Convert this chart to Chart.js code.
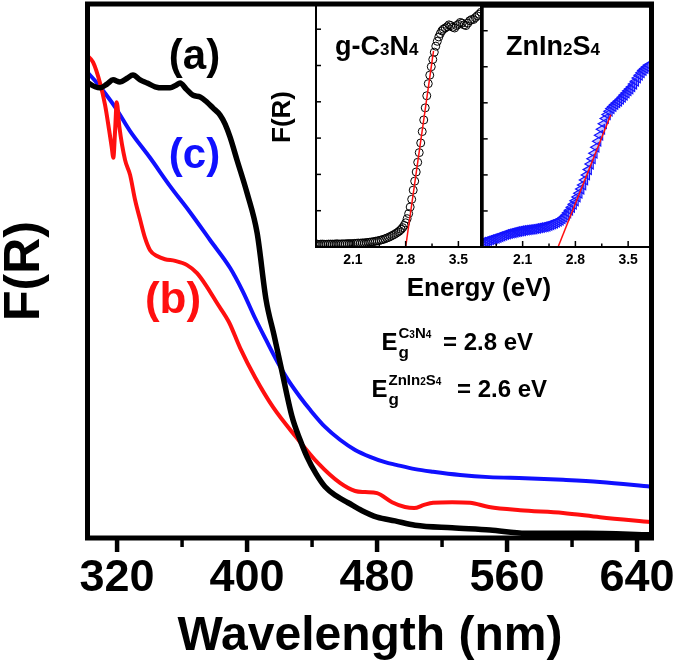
<!DOCTYPE html>
<html>
<head>
<meta charset="utf-8">
<script src="https://cdn.jsdelivr.net/npm/chart.js@4.4.1/dist/chart.umd.min.js"></script>
<style>
  html, body { margin: 0; padding: 0; background: #fff; }
  #wrap { position: relative; width: 675px; height: 665px; }
  canvas { position: absolute; }
  #main { left: 0; top: 0; }
  #inset1 { left: 296px; top: 0; }
  #inset2 { left: 470px; top: 0; }
</style>
</head>
<body>
<div id="wrap">
  <canvas id="main" width="675" height="665"></canvas>
  <canvas id="inset1" width="190" height="275"></canvas>
  <canvas id="inset2" width="205" height="275"></canvas>
</div>
<script>
// main plot: wavelength (nm) vs F(R), arbitrary units
const wlA = [302.2,306.5,309.5,313.8,317.5,321.8,326.2,329.8,334.2,338.5,343.4,348.3,352.6,356.3,358.8,362.5,366.8,371.1,375.4,379.1,383.4,386.5,389.5,393.8,400.0,406.2,411.7,416.6,420.9,427.7,432.6,436.9,442.5,448.0,454.8,462.2,470.8,480.0,491.1,503.4,526.2,549.5,571.7,609.2,648.5];
const frA = [85.2,84.5,84.3,85.0,85.8,85.4,86.1,86.7,85.8,85.2,84.5,84.3,84.3,84.8,85.2,84.1,82.9,82.6,81.6,80.5,79.2,77.5,75.1,70.8,64.6,57.1,44.6,38.0,32.0,22.7,18.4,15.2,12.0,9.6,7.9,6.6,5.1,3.9,3.2,2.4,1.9,1.5,0.9,0.9,0.6];

const wlB = [301.5,305.2,309.5,312.6,315.1,316.7,317.7,318.8,319.8,321.4,324.9,328.0,331.1,334.2,337.2,340.3,344.6,349.5,355.7,363.1,369.2,375.4,381.5,388.9,395.7,404.9,416.0,430.2,443.7,457.2,466.5,472.6,480.0,489.2,497.2,502.8,508.9,514.5,526.2,537.2,548.9,568.0,594.5,617.2,648.5];
const frB = [90.4,89.1,85.2,81.1,76.4,73.2,71.2,76.4,81.6,77.0,70.8,68.0,63.3,59.6,56.2,53.9,52.8,52.2,51.9,51.1,49.6,47.0,44.0,40.4,35.6,30.1,24.5,18.9,14.0,10.3,8.8,8.6,8.4,6.7,5.8,5.6,6.2,6.6,6.7,6.6,5.8,5.2,4.7,3.9,3.0];

const wlC = [301.5,307.7,312.6,318.8,328.0,340.3,352.6,364.9,377.2,389.5,397.5,404.9,411.7,418.5,425.2,432.6,438.8,448.0,457.2,466.5,475.7,484.9,491.7,503.4,514.5,531.1,548.9,571.1,594.5,617.2,648.5];
const frC = [87.3,85.2,83.3,80.7,76.2,71.2,65.9,61.0,55.8,50.6,46.1,41.2,37.1,33.1,29.6,26.4,24.0,20.8,18.4,16.5,15.2,14.2,13.7,12.9,12.4,11.8,11.4,11.2,10.9,10.5,9.6];

const xTicks = [320, 400, 480, 560, 640];
const xMinor = [360, 440, 520, 600];

// inset 1: g-C3N4, energy (eV) vs F(R)
const e1 = [
  1.600,1.625,1.650,1.675,1.700,1.725,1.750,1.775,1.800,1.825,1.850,1.875,1.900,1.925,1.950,1.975,2.000,2.025,2.050,2.075,2.100,2.125,
  2.150,2.175,2.200,2.225,2.250,2.275,2.300,2.325,2.350,2.375,2.400,2.425,2.450,2.475,2.500,2.525,2.550,2.575,2.600,2.625,2.650,2.675,
  2.70,2.72,2.74,2.76,2.78,2.80,2.82,2.84,2.86,2.88,2.90,2.92,2.94,2.96,2.98,3.00,3.02,3.04,3.06,3.08,3.10,3.12,3.14,3.16,3.18,3.20,
  3.22,3.24,3.26,3.28,3.30,
  3.325,3.350,3.375,3.400,3.425,3.450,3.475,3.500,3.525,3.550,3.575,3.600,3.625,3.650,3.675,3.700,3.725,3.750,3.775,3.800];
const f1 = [
  0.012,0.012,0.011,0.012,0.012,0.011,0.011,0.012,0.012,0.012,0.012,0.013,0.013,0.012,0.013,0.013,0.013,0.014,0.014,0.014,0.014,0.015,
  0.015,0.016,0.016,0.017,0.017,0.018,0.019,0.020,0.021,0.022,0.024,0.025,0.027,0.029,0.031,0.034,0.037,0.040,0.044,0.048,0.052,0.057,
  0.062,0.067,0.073,0.080,0.089,0.100,0.117,0.138,0.165,0.197,0.235,0.272,0.310,0.350,0.390,0.430,0.477,0.525,0.575,0.625,0.675,0.710,0.745,0.775,0.805,0.830,
  0.850,0.868,0.882,0.893,0.900,
  0.905,0.910,0.918,0.915,0.908,0.905,0.915,0.920,0.928,0.925,0.918,0.915,0.925,0.935,0.940,0.940,0.948,0.955,0.962,0.970];
const fit1E = [2.80, 3.17];
const fit1F = [0, 0.81];

// inset 2: ZnIn2S4
const e2 = [
  1.570,1.600,1.625,1.650,1.675,1.700,1.725,1.750,1.775,1.800,1.825,1.850,1.875,1.900,1.925,1.950,1.975,2.000,2.025,2.050,2.075,2.100,
  2.125,2.150,2.175,2.200,2.225,2.250,2.275,2.300,2.325,2.350,2.375,2.400,2.425,2.450,2.475,2.500,2.525,2.550,2.575,2.600,2.625,2.650,
  2.675,2.700,2.725,2.750,2.775,2.800,2.825,2.850,2.875,2.900,2.925,2.950,2.975,3.000,3.025,3.050,3.075,3.100,3.125,3.150,3.175,3.200,
  3.225,3.250,3.275,3.300,3.325,3.350,3.375,3.400,3.425,3.450,3.475,3.500,3.525,3.550,3.575,3.600,3.625,3.650,3.675,3.700,3.725,3.750,3.775];
const f2 = [
  0.020,0.022,0.025,0.027,0.030,0.032,0.035,0.037,0.040,0.043,0.046,0.049,0.052,0.054,0.056,0.058,0.060,0.062,0.064,0.065,0.067,0.068,
  0.070,0.071,0.072,0.073,0.074,0.075,0.077,0.078,0.080,0.081,0.083,0.085,0.087,0.090,0.093,0.096,0.099,0.103,0.107,0.112,0.118,0.124,
  0.132,0.142,0.153,0.165,0.178,0.192,0.208,0.224,0.241,0.258,0.279,0.300,0.322,0.345,0.367,0.390,0.415,0.440,0.465,0.490,0.513,0.535,
  0.551,0.565,0.576,0.585,0.593,0.600,0.607,0.615,0.623,0.632,0.641,0.650,0.658,0.667,0.678,0.690,0.703,0.715,0.725,0.735,0.743,0.750,0.757];
const fit2E = [2.57, 3.27];
const fit2F = [0, 0.55];

const eTicks = [2.1, 2.8, 3.5];
const eMinor = [1.75, 2.45, 3.15];
const fTicks = [0.15, 0.30, 0.45, 0.60, 0.75, 0.90];

const FONT = "'Liberation Sans', Arial, sans-serif";
const RED = '#ff0f0f', BLUE = '#1010ff';

const toXY = (xs, ys) => xs.map((x, i) => ({x: x, y: ys[i]}));

function seg(ctx, x1, y1, x2, y2) {
  ctx.beginPath(); ctx.moveTo(x1, y1); ctx.lineTo(x2, y2); ctx.stroke();
}

// draws runs of text with different sizes, left aligned from x
function rich(ctx, x, y, parts, color) {
  ctx.fillStyle = color || '#000';
  ctx.textAlign = 'left';
  ctx.textBaseline = 'alphabetic';
  parts.forEach(p => {
    ctx.font = 'bold ' + p[1] + 'px ' + FONT;
    ctx.fillText(p[0], x, y + (p[2] || 0));
    x += ctx.measureText(p[0]).width;
  });
}

function centerText(ctx, t, x, y, size, color) {
  ctx.font = 'bold ' + size + 'px ' + FONT;
  ctx.fillStyle = color || '#000';
  ctx.textAlign = 'center';
  ctx.textBaseline = 'alphabetic';
  ctx.fillText(t, x, y);
}

function vertText(ctx, t, x, y, size) {
  ctx.save();
  ctx.translate(x, y);
  ctx.rotate(-Math.PI / 2);
  ctx.font = 'bold ' + size + 'px ' + FONT;
  ctx.fillStyle = '#000';
  ctx.textAlign = 'center';
  ctx.textBaseline = 'middle';
  ctx.fillText(t, 0, 0);
  ctx.restore();
}

const mainDecor = {
  id: 'mainDecor',
  afterDraw(chart) {
    const ctx = chart.ctx, a = chart.chartArea, xs = chart.scales.x;
    ctx.save();
    ctx.strokeStyle = '#000';
    ctx.lineWidth = 5;
    ctx.strokeRect(a.left, a.top, a.right - a.left, a.bottom - a.top);
    ctx.lineWidth = 4.5;
    xTicks.forEach(v => { const px = xs.getPixelForValue(v); seg(ctx, px, a.bottom, px, a.bottom + 14); });
    ctx.lineWidth = 3.5;
    xMinor.forEach(v => { const px = xs.getPixelForValue(v); seg(ctx, px, a.bottom, px, a.bottom + 9); });

    centerText(ctx, 'Wavelength (nm)', 370, 650, 48);
    vertText(ctx, 'F(R)', 25, 271, 50);

    centerText(ctx, '(a)', 194.5, 69, 42, '#000');
    centerText(ctx, '(c)', 194.5, 168, 42, BLUE);
    centerText(ctx, '(b)', 173, 313, 44, RED);

    // inset labels
    vertText(ctx, 'F(R)', 283, 117, 26);
    centerText(ctx, 'Energy (eV)', 479, 296, 26);
    rich(ctx, 335, 55, [['g-C', 27], ['3', 17], ['N', 27], ['4', 17]]);
    rich(ctx, 506, 55, [['ZnIn', 27], ['2', 17], ['S', 27], ['4', 17]]);

    // band gap notes
    rich(ctx, 381.5, 350, [['E', 24]]);
    rich(ctx, 398.5, 358, [['g', 17]]);
    rich(ctx, 398.5, 338, [['C', 15], ['3', 10], ['N', 15], ['4', 10]]);
    rich(ctx, 443, 350, [['= 2.8 eV', 24]]);

    rich(ctx, 371.5, 397, [['E', 24]]);
    rich(ctx, 388.5, 405, [['g', 17]]);
    rich(ctx, 388.5, 385, [['ZnIn', 15], ['2', 10], ['S', 15], ['4', 10]]);
    rich(ctx, 457, 397, [['= 2.6 eV', 24]]);
    ctx.restore();
  }
};

new Chart(document.getElementById('main'), {
  type: 'scatter',
  data: {
    datasets: [
      {label: '(a)', data: toXY(wlA, frA), showLine: true, borderColor: '#000', borderWidth: 5.5, pointRadius: 0, cubicInterpolationMode: 'monotone'},
      {label: '(b)', data: toXY(wlB, frB), showLine: true, borderColor: RED, borderWidth: 4, pointRadius: 0, cubicInterpolationMode: 'monotone'},
      {label: '(c)', data: toXY(wlC, frC), showLine: true, borderColor: BLUE, borderWidth: 4, pointRadius: 0, cubicInterpolationMode: 'monotone'}
    ]
  },
  options: {
    responsive: false,
    animation: false,
    plugins: {legend: {display: false}, tooltip: {enabled: false}},
    layout: {padding: {left: 87.5, right: 23.5, top: 4, bottom: 0}},
    scales: {
      x: {
        type: 'linear', min: 301.8, max: 648.9,
        grid: {display: false, drawTicks: false},
        border: {display: false},
        ticks: {font: {family: FONT, size: 45, weight: 'bold'}, color: '#000', padding: 14, maxRotation: 0, autoSkip: false},
        afterBuildTicks: s => { s.ticks = xTicks.map(v => ({value: v})); },
        afterFit: s => { s.height = 127; s.paddingLeft = 0; s.paddingRight = 0; }
      },
      y: {display: false, min: 0, max: 100}
    }
  },
  plugins: [mainDecor]
});

const insetFrame = {
  id: 'insetFrame',
  afterDraw(chart) {
    const ctx = chart.ctx, a = chart.chartArea, xs = chart.scales.x, ys = chart.scales.y;
    ctx.save();
    ctx.strokeStyle = '#000';
    ctx.lineWidth = 2;
    ctx.strokeRect(a.left, a.top, a.right - a.left, a.bottom - a.top);
    ctx.lineWidth = 1.5;
    eTicks.forEach(v => { const px = xs.getPixelForValue(v); seg(ctx, px, a.bottom, px, a.bottom - 6); });
    eMinor.forEach(v => { const px = xs.getPixelForValue(v); seg(ctx, px, a.bottom, px, a.bottom - 3.5); });
    fTicks.forEach(v => { const py = ys.getPixelForValue(v); seg(ctx, a.left, py, a.left + 5, py); });
    ctx.restore();
  }
};

function makeInset(id, padL, padR, xMin, xMax, datasets) {
  return new Chart(document.getElementById(id), {
    type: 'scatter',
    data: {datasets: datasets},
    options: {
      responsive: false,
      animation: false,
      plugins: {legend: {display: false}, tooltip: {enabled: false}},
      layout: {padding: {left: padL, right: padR, top: 4, bottom: 0}},
      scales: {
        x: {
          type: 'linear', min: xMin, max: xMax,
          grid: {display: false, drawTicks: false},
          border: {display: false},
          ticks: {font: {family: FONT, size: 14, weight: 'bold'}, color: '#000', padding: 5, maxRotation: 0, autoSkip: false},
          afterBuildTicks: s => { s.ticks = eTicks.map(v => ({value: v})); },
          afterFit: s => { s.height = 28; s.paddingLeft = 0; s.paddingRight = 0; }
        },
        y: {display: false, min: 0, max: 1}
      }
    },
    plugins: [insetFrame]
  });
}

makeInset('inset1', 20, 3.3, 1.61, 3.80, [
  {data: toXY(fit1E, fit1F), showLine: true, borderColor: RED, borderWidth: 1.5, pointRadius: 0},
  {data: toXY(e1, f1), showLine: false, pointStyle: 'circle', pointRadius: 4, borderColor: '#000', borderWidth: 1, backgroundColor: 'rgba(255,255,255,0)'}
]);

makeInset('inset2', 12.7, 25, 1.57, 3.79, [
  {data: toXY(fit2E, fit2F), showLine: true, borderColor: RED, borderWidth: 1.5, pointRadius: 0},
  {data: toXY(e2, f2), showLine: false, pointStyle: 'triangle', rotation: -90, pointRadius: 5.5, borderColor: '#1414ff', borderWidth: 1.2, backgroundColor: 'rgba(60,60,255,0.3)'}
]);
</script>
</body>
</html>
